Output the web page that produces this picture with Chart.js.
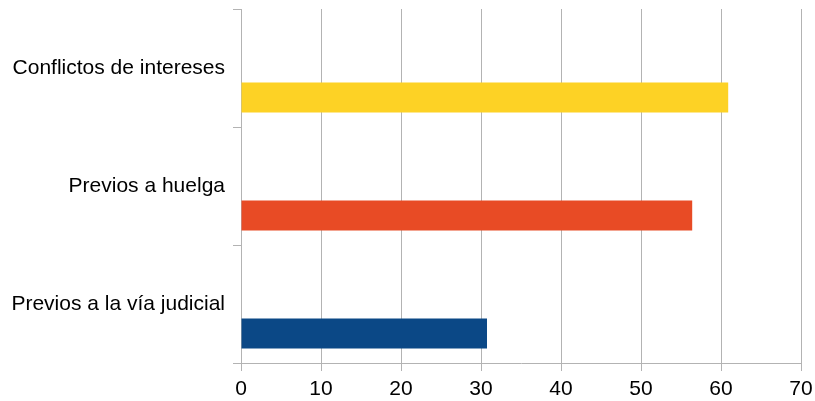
<!DOCTYPE html>
<html>
<head>
<meta charset="utf-8">
<script src="https://cdn.jsdelivr.net/npm/chart.js@4"></script>
<style>
  html, body { margin: 0; padding: 0; background: #fff; }
  #wrap { width: 815px; height: 401px; position: relative; }
</style>
</head>
<body>
<div id="wrap"><canvas id="barChart"></canvas></div>
<script>
// categorias de arriba hacia abajo
const categories = ['Conflictos de intereses', 'Previos a huelga', 'Previos a la vía judicial'];
const values = [60.9, 56.4, 30.75];
const barColors = ['#fdd225', '#e84b25', '#0b4886'];
const xTicks = [0, 10, 20, 30, 40, 50, 60, 70];

const gridGrey = '#b3b3b3';
const labelFont = { family: "'Liberation Sans', Arial, sans-serif", size: 21 };

// quita el relleno automático que Chart.js añade por las etiquetas
function noAutoPadding(axis) {
    axis.paddingTop = 0;
    axis.paddingBottom = 0;
    axis.paddingLeft = 0;
    axis.paddingRight = 0;
}

const ctx = document.getElementById('barChart').getContext('2d');
new Chart(ctx, {
    type: 'bar',
    data: {
        labels: categories,
        datasets: [
            // serie vacía: deja la barra real en la mitad inferior de cada franja
            { label: '', data: categories.map(() => null), backgroundColor: 'transparent' },
            { label: 'Valor', data: values, backgroundColor: barColors, borderWidth: 0 }
        ]
    },
    options: {
        indexAxis: 'y',
        responsive: true,
        maintainAspectRatio: false,
        animation: false,
        categoryPercentage: 1.0,
        barPercentage: 0.51,
        layout: { padding: { top: 9, right: 14, left: 0, bottom: 0 } },
        plugins: {
            legend: { display: false },
            tooltip: { enabled: false }
        },
        scales: {
            x: {
                min: xTicks[0],
                max: xTicks[xTicks.length - 1],
                afterBuildTicks: (axis) => { axis.ticks = xTicks.map(v => ({ value: v })); },
                grid: { color: gridGrey, lineWidth: 1, tickLength: 8 },
                border: { color: gridGrey, width: 1 },
                ticks: { color: '#000', font: labelFont, padding: 6, maxRotation: 0 },
                afterFit: (axis) => { axis.height = 38; noAutoPadding(axis); }
            },
            y: {
                grid: { drawOnChartArea: false, offset: true, color: gridGrey, tickLength: 8 },
                border: { color: gridGrey, width: 1 },
                ticks: { color: '#000', font: labelFont, padding: 8 },
                afterFit: (axis) => { axis.width = 241; noAutoPadding(axis); }
            }
        }
    }
});
</script>
</body>
</html>
